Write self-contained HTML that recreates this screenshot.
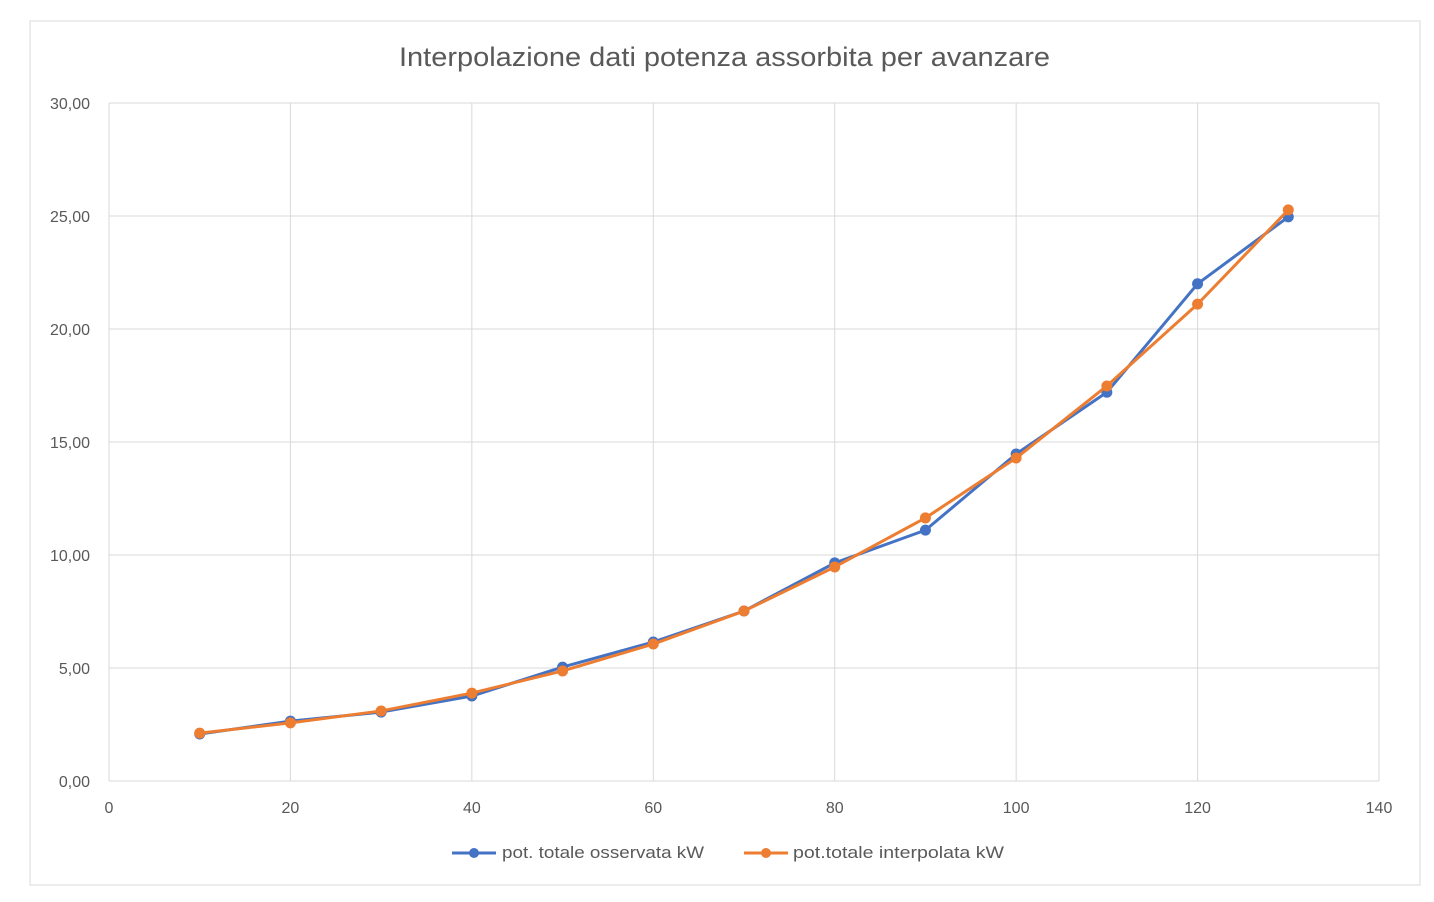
<!DOCTYPE html>
<html><head><meta charset="utf-8"><style>
body{margin:0;background:#fff;}
svg{display:block;font-family:"Liberation Sans",sans-serif;}
</style></head><body>
<svg id="chart" width="1434" height="902">
<rect x="30" y="21" width="1390" height="864" fill="#fff" stroke="#d9d9d9"/>
<text x="399" y="66" font-size="27" fill="#595959" textLength="651" lengthAdjust="spacingAndGlyphs">Interpolazione dati potenza assorbita per avanzare</text>
<g id="grid"></g><g id="series"></g>
<g>
<line x1="452" y1="853" x2="496" y2="853" stroke="#4472c4" stroke-width="3"/>
<circle cx="474" cy="853" r="5" fill="#4472c4"/>
<text x="502" y="858" font-size="17" fill="#595959" textLength="202" lengthAdjust="spacingAndGlyphs">pot. totale osservata kW</text>
<line x1="744" y1="853" x2="788" y2="853" stroke="#ed7d31" stroke-width="3"/>
<circle cx="766" cy="853" r="5" fill="#ed7d31"/>
<text x="793" y="858" font-size="17" fill="#595959" textLength="211" lengthAdjust="spacingAndGlyphs">pot.totale interpolata kW</text>
</g>
</svg>
<script>
const xValues=[10,20,30,40,50,60,70,80,90,100,110,120,130];
const observed=[2.08,2.65,3.05,3.76,5.04,6.15,7.52,9.65,11.1,14.47,17.2,22.0,24.96];
const interpolated=[2.12,2.57,3.1,3.89,4.87,6.06,7.52,9.47,11.64,14.29,17.48,21.1,25.27];
const xTicks=[0,20,40,60,80,100,120,140];
const yTicks=[0,5,10,15,20,25,30];
const yTickLabels=["0,00","5,00","10,00","15,00","20,00","25,00","30,00"];
const NS="http://www.w3.org/2000/svg";
const X=v=>109+v*(1379-109)/140;
const Y=v=>781-v*(781-103)/30;
const grid=document.getElementById('grid'),ser=document.getElementById('series');
function mk(tag,attrs,parent){const e=document.createElementNS(NS,tag);for(const k in attrs)e.setAttribute(k,attrs[k]);parent.appendChild(e);return e;}
yTicks.forEach((t,i)=>{
 const l=mk('line',{x1:109,x2:1379,y1:Y(t),y2:Y(t),stroke:'#d9d9d9','stroke-width':1},grid);
 
 
 const tx=mk('text',{x:90,y:Y(t)+6,'text-anchor':'end','font-size':16,fill:'#595959'},grid);
 tx.textContent=yTickLabels[i];
 
 
});
xTicks.forEach(t=>{
 const l=mk('line',{x1:X(t),x2:X(t),y1:103,y2:781,stroke:'#d9d9d9','stroke-width':1},grid);
 
 
 const tx=mk('text',{x:X(t),y:813,'text-anchor':'middle','font-size':16,fill:'#595959'},grid);
 tx.textContent=t;
 
 
});
function draw(vals,color,name){
 const p=mk('polyline',{points:vals.map((v,i)=>X(xValues[i])+','+Y(v)).join(' '),fill:'none',stroke:color,'stroke-width':3,'stroke-linejoin':'round'},ser);
 
 
 vals.forEach((v,i)=>{
  const c=mk('circle',{cx:X(xValues[i]),cy:Y(v),r:5.5,fill:color},ser);
  
  
 });
}
draw(observed,'#4472c4','observed');
draw(interpolated,'#ed7d31','interpolated');
</script>
</body></html>
